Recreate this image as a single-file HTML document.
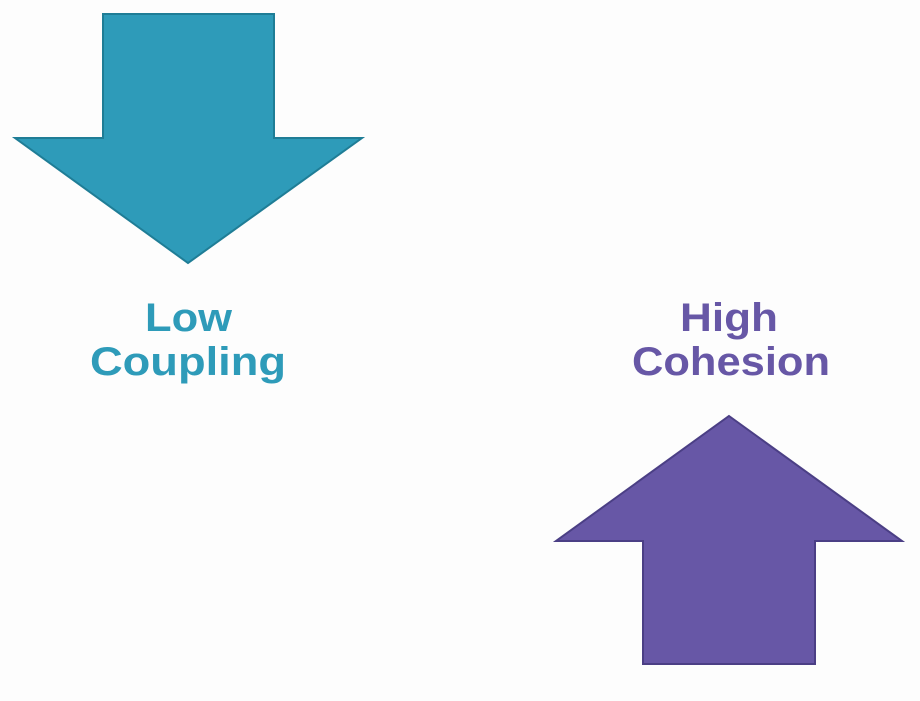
<!DOCTYPE html>
<html><head><meta charset="utf-8"><style>
html,body{margin:0;padding:0;background:#fdfdfd;}
svg{display:block;}
text{font-family:"Liberation Sans",sans-serif;font-weight:bold;font-size:40px;}
</style></head><body>
<svg width="920" height="701" viewBox="0 0 920 701" xmlns="http://www.w3.org/2000/svg">
<rect width="920" height="701" fill="#fdfdfd"/>
<polygon points="103,14 274,14 274,138 362,138 188,263 15,138 103,138" fill="#2e9bb9" stroke="#1f7d96" stroke-width="2"/>
<polygon points="729,416 902,541 815,541 815,664 643,664 643,541 556,541" fill="#6757a6" stroke="#4b3f85" stroke-width="2"/>
<text x="145" y="331" fill="#2e9bb9" textLength="87" lengthAdjust="spacingAndGlyphs">Low</text>
<text x="90" y="375" fill="#2e9bb9" textLength="196" lengthAdjust="spacingAndGlyphs">Coupling</text>
<text x="680" y="331" fill="#6757a6" textLength="98" lengthAdjust="spacingAndGlyphs">High</text>
<text x="632" y="375" fill="#6757a6" textLength="198" lengthAdjust="spacingAndGlyphs">Cohesion</text>
</svg>
</body></html>
